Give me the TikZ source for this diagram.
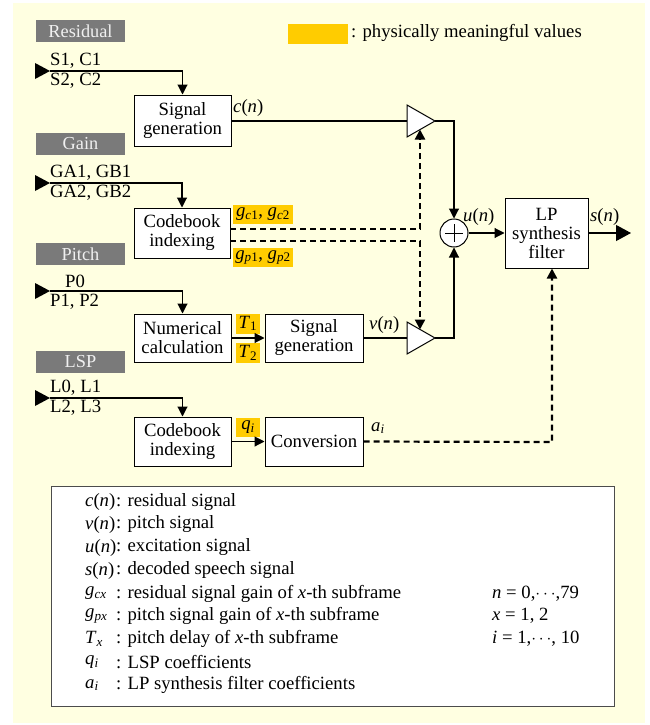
\documentclass[tikz,border=0pt]{standalone}
\usepackage{fontspec}
\setmainfont{Liberation Serif}
\usetikzlibrary{arrows.meta}
\definecolor{bgyellow}{RGB}{255,255,225}
\definecolor{hl}{RGB}{255,204,0}
\definecolor{tagg}{RGB}{122,122,122}
\definecolor{tagtext}{RGB}{240,240,240}
\newcommand\fs{\fontsize{18.7}{19}\selectfont}
\newcommand\iv[1]{\textit{#1}}
\begin{document}
\begin{tikzpicture}[x=1pt,y=-1pt,
  box/.style={draw, fill=white, line width=1pt, align=center, inner sep=0pt, font=\fs},
  tag/.style={fill=tagg, text=tagtext, inner sep=0pt, minimum width=89pt, minimum height=22pt, font=\fontsize{18.3}{19}\selectfont},
  hlbox/.style={fill=hl, inner sep=0pt, font=\fs},
  lbl/.style={inner sep=0pt, font=\fs},
  conn/.style={line width=1.1pt},
  arr/.style={conn, -{Triangle[length=10pt,width=10pt]}},
  dsh/.style={line width=2.2pt, dash pattern=on 6pt off 4pt},
  darr/.style={dsh, -{Triangle[length=10pt,width=10pt]}},
  intri/.style={fill=black}
]
\useasboundingbox (0,0) rectangle (650,725);
\fill[white] (0,0) rectangle (650,725);
\fill[bgyellow] (13,3) rectangle (645,723);

% legend of highlight
\node[hlbox, minimum width=60pt, minimum height=20pt] (hlkey) at (318,34) {};
\node[lbl, anchor=west] (hlkeytxt) at (351,33) {: physically meaningful values};

% tags
\node[tag] (tres) at (80.5,31) {Residual};
\node[tag] (tgain) at (80.5,144) {Gain};
\node[tag] (tpitch) at (80.5,254) {Pitch};
\node[tag] (tlsp) at (80.5,361.5) {LSP};

% boxes
\node[box, minimum width=97pt, minimum height=51pt] (sg1) at (182.5,120.5) {Signal\\generation};
\node[box, minimum width=96pt, minimum height=50pt] (cb1) at (182,233) {Codebook\\indexing};
\node[box, minimum width=97pt, minimum height=48pt] (nc) at (182.5,338) {Numerical\\calculation};
\node[box, minimum width=98pt, minimum height=48pt] (sg2) at (314,338) {Signal\\generation};
\node[box, minimum width=97pt, minimum height=49pt] (cb2) at (182.5,441.5) {Codebook\\indexing};
\node[box, minimum width=98pt, minimum height=49pt] (conv) at (314,441.5) {Conversion};
\node[box, minimum width=83pt, minimum height=70pt] (lp) at (546.5,233) {LP\\synthesis\\filter};

% highlighted values
\node[hlbox, minimum width=60pt, minimum height=19pt] (gc) at (263,214.5) {\iv{g}\textsubscript{\iv{c}1}, \iv{g}\textsubscript{\iv{c}2}};
\node[hlbox, minimum width=60pt, minimum height=19pt] (gp) at (263,257.5) {\iv{g}\textsubscript{\iv{p}1}, \iv{g}\textsubscript{\iv{p}2}};
\node[hlbox, minimum width=24pt, minimum height=20pt] (t1) at (248,323.5) {\iv{T}\textsubscript{1}};
\node[hlbox, minimum width=24pt, minimum height=20pt] (t2) at (248,353) {\iv{T}\textsubscript{2}};
\node[hlbox, minimum width=24pt, minimum height=19pt] (qi) at (248,427) {\iv{q}\textsubscript{\iv{i}}};

% input labels
\node[lbl, anchor=west] (s1) at (50,61) {S1, C1};
\node[lbl, anchor=west] (s2) at (50,81) {S2, C2};
\node[lbl, anchor=west] (ga1) at (50,173) {GA1, GB1};
\node[lbl, anchor=west] (ga2) at (50,193) {GA2, GB2};
\node[lbl] (p0) at (75,281) {P0};
\node[lbl, anchor=west] (p1) at (50,302) {P1, P2};
\node[lbl, anchor=west] (l0) at (50,388) {L0, L1};
\node[lbl, anchor=west] (l2) at (50,408) {L2, L3};

% input triangles and lines
\coordinate (r0) at (50,71);
\coordinate (g0) at (50,183);
\coordinate (p0c) at (50,291);
\coordinate (l0c) at (50,398);
\foreach \yy in {71,183,291,398}{
  \fill[intri] (35,\yy-8) -- (50,\yy) -- (35,\yy+8) -- cycle;
}
\draw[arr] (r0) -| (sg1.north);
\draw[arr] (g0) -| (cb1.north);
\draw[arr] (p0c) -| (nc.north);
\draw[arr] (l0c) -| (cb2.north);

% amplifiers
\coordinate (a1i) at (407,121);
\coordinate (a1o) at (435,121);
\coordinate (a2i) at (407,338);
\coordinate (a2o) at (435,338);
\coordinate (a1b) at (420,129.5);
\coordinate (a2t) at (420,329.5);
\draw[conn] (sg1.east |- a1i) -- (a1i);
\draw[conn] (sg2.east |- a2i) -- (a2i);
\draw[line width=1pt, fill=white] (407,105) -- (a1o) -- (407,137) -- cycle;
\draw[line width=1pt, fill=white] (407,322) -- (a2o) -- (407,354) -- cycle;

% sum
\node[draw, circle, fill=white, line width=1pt, minimum size=28pt, inner sep=0pt] (sum) at (454,233) {};
\draw[line width=1pt] (454,224) -- (454,242) (445,233) -- (463,233);
\draw[arr] (a1o) -| (sum.north);
\draw[arr] (a2o) -| (sum.south);
\draw[arr] (sum.east) -- (lp.west);
\coordinate (out) at (631,233);
\draw[conn, -{Triangle[length=15pt,width=16pt]}] (lp.east) -- (out);

% T and q arrows
\draw[arr] (nc.east) -- (sg2.west);
\draw[arr] (cb2.east) -- (conv.west);

% dashed controls
\coordinate (gcs) at (230,229);
\coordinate (gps) at (230,241);
\draw[darr] (gcs) -| (a1b);
\draw[darr] (gps) -| (a2t);
\coordinate (aiturn) at (552,442);
\draw[darr] (conv.east) -- (aiturn) -- (lp.south -| aiturn);

% signal labels
\node[lbl, anchor=west] (cn) at (233,108) {\iv{c}(\iv{n})};
\node[lbl, anchor=west] (un) at (463,217) {\iv{u}(\iv{n})};
\node[lbl, anchor=west] (sn) at (590,217) {\iv{s}(\iv{n})};
\node[lbl, anchor=west] (vn) at (369,325) {\iv{v}(\iv{n})};
\node[lbl, anchor=west] (ai) at (371,428) {\iv{a}\textsubscript{\iv{i}}};

% legend
\node[draw=black!70, fill=white, line width=0.8pt, minimum width=563pt, minimum height=220pt, inner sep=0pt] (legend) at (332.5,596) {};
\foreach \sym/\txt/\yy in {
  {\iv{c}(\iv{n})}/{residual signal}/502,
  {\iv{v}(\iv{n})}/{pitch signal}/524.5,
  {\iv{u}(\iv{n})}/{excitation signal}/547.5,
  {\iv{s}(\iv{n})}/{decoded speech signal}/570.5,
  {\iv{g}\textsubscript{\iv{cx}}}/{residual signal gain of \iv{x}-th subframe}/593.5,
  {\iv{g}\textsubscript{\iv{px}}}/{pitch signal gain of \iv{x}-th subframe}/616,
  {\iv{T}\textsubscript{\iv{x}}}/{pitch delay of \iv{x}-th subframe}/639,
  {\iv{q}\textsubscript{\iv{i}}}/{LSP coefficients}/662,
  {\iv{a}\textsubscript{\iv{i}}}/{LP synthesis filter coefficients}/685}{
  \node[lbl, anchor=west] at (85,\yy) {\sym};
  \node[lbl, anchor=west] at (116,\yy) {: \txt};
}
\node[lbl, anchor=west] (rn) at (492,593.5) {\iv{n} = 0,$\cdots$,79};
\node[lbl, anchor=west] (rx) at (492,616) {\iv{x} = 1, 2};
\node[lbl, anchor=west] (ri) at (492,639) {\iv{i} = 1,$\cdots$, 10};
\end{tikzpicture}
\end{document}
